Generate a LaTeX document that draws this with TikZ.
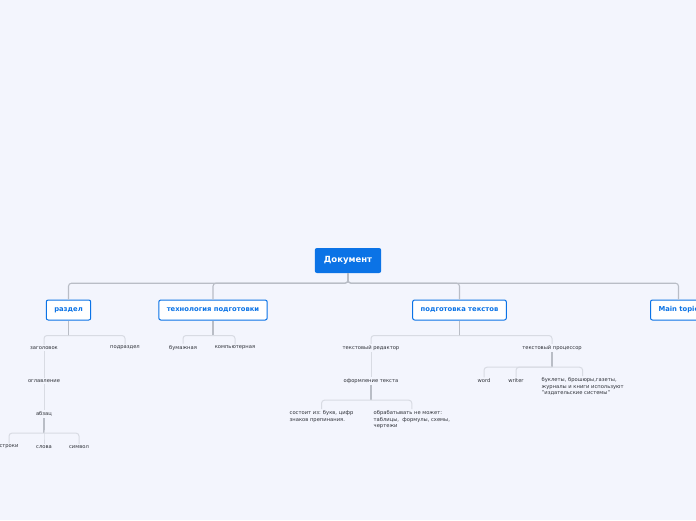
\documentclass[tikz,border=0pt]{standalone}
\usepackage{fontspec}
\setmainfont{DejaVu Sans}
\usetikzlibrary{positioning}

\definecolor{bgcol}{HTML}{F3F5FD}
\definecolor{topblue}{HTML}{0B73E6}
\definecolor{linkgray}{HTML}{B9BDC6}
\definecolor{leafgray}{HTML}{D8DBE3}
\definecolor{leaftext}{HTML}{2E3138}

\begin{document}
\begin{tikzpicture}[
	x=1pt, y=-1pt,
	root/.style={
		fill=topblue,
		text=white,
		font=\fontsize{8.5}{10}\selectfont\bfseries,
		rounded corners=2pt,
		inner xsep=9pt,
		minimum height=25pt,
	},
	topic/.style={
		draw=topblue,
		line width=1pt,
		fill=white,
		text=topblue,
		font=\fontsize{6.8}{8}\selectfont\bfseries,
		rounded corners=2pt,
		inner xsep=8pt,
		minimum height=20pt,
	},
	leaf/.style={text=leaftext, font=\fontsize{5.2}{6.4}\selectfont, inner sep=1.5pt},
	note/.style={leaf, align=left, anchor=north west},
	link/.style={draw=linkgray, line width=1.1pt, rounded corners=3pt},
	sublink/.style={draw=leafgray, line width=1pt, rounded corners=3pt},
]

% --- Фон ---
\fill[bgcol] (0,0) rectangle (696,520);
\clip (0,0) rectangle (696,520);

% --- Центральная тема ---
\node[root] (doc) at (348,260.5) {Документ};

% --- Основные темы ---
\node[topic] (razdel) at (68.5,310) {раздел};
\node[topic] (tech)   at (213,310)  {технология подготовки};
\node[topic] (prep)   at (459.5,310){подготовка текстов};
\node[topic, anchor=west] (main) at (650,310) {Main topic};

% --- Подтемы ---
\node[leaf] (zag)   at (44,348)  {заголовок};
\node[leaf] (podr)  at (125,348) {подраздел};
\node[leaf] (ogl)   at (44,381)  {оглавление};
\node[leaf] (abz)   at (44,414)  {абзац};
\node[leaf] (str)   at (9,447)   {строки};
\node[leaf] (slova) at (44,447)  {слова};
\node[leaf] (simv)  at (79,447)  {символ};

\node[leaf] (bum)  at (183,348) {бумажная};
\node[leaf] (komp) at (235,348) {компьютерная};

\node[leaf] (red)    at (371,348) {текстовый редактор};
\node[leaf] (proc)   at (552,348) {текстовый процессор};
\node[leaf] (oform)  at (371,381) {оформление текста};
\node[note] (sost)   at (288,409) {состоит из: букв, цифр\\знаков препинания.};
\node[note] (obr)    at (372,409) {обрабатывать не может:\\таблицы,~ формулы, схемы,\\чертежи};
\node[leaf] (word)   at (484,381) {word};
\node[leaf] (writer) at (516,381) {writer};
\node[note] (bukl)   at (540,376) {буклеты, брошюры,газеты,\\журналы и книги используют\\"издательские системы"};

% --- Связи ---
\foreach \t in {razdel,tech,prep,main}
	\draw[link] (doc.south) -- ++(0,10) -| (\t.north);

% стволы к скобкам
\foreach \p in {razdel,tech,prep,abz,oform,proc}
	\draw[link] (\p.south) -- ++(0,15) coordinate (\p-b);

% скобки
\foreach \p/\c in {razdel/zag,razdel/podr,tech/bum,tech/komp,prep/red,prep/proc,
		abz/str,abz/slova,abz/simv,oform/sost,oform/obr,proc/word,proc/writer,proc/bukl}
	\draw[sublink] (\p-b) -| (\c.north);

% цепочки
\draw[sublink] (zag.south) -- (ogl.north);
\draw[sublink] (ogl.south) -- (abz.north);
\draw[sublink] (red.south) -- (oform.north);

\end{tikzpicture}
\end{document}
